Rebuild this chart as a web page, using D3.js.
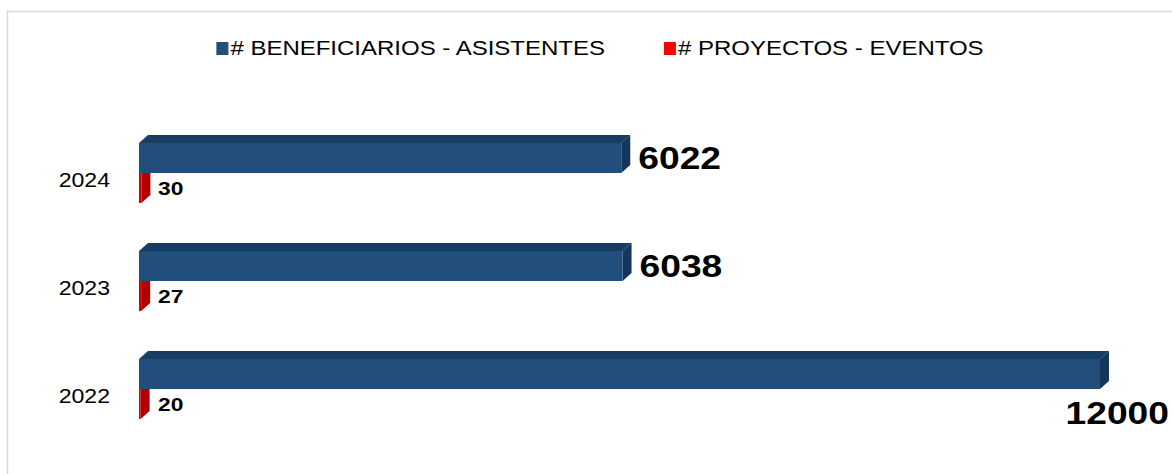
<!DOCTYPE html>
<html>
<head>
<meta charset="utf-8">
<script src="https://cdn.jsdelivr.net/npm/d3@7"></script>
<style>
  html, body { margin: 0; padding: 0; background: #ffffff; }
  svg { display: block; }
  text { font-family: "Liberation Sans", Arial, sans-serif; }
</style>
</head>
<body>
<svg id="chart" width="1172" height="474"></svg>
<script>
// ---- data ----
const years = ["2024", "2023", "2022"];
const beneficiarios = [6022, 6038, 12000];
const proyectos = [30, 27, 20];
const seriesNames = ["# BENEFICIARIOS - ASISTENTES", "# PROYECTOS - EVENTOS"];
const seriesKeys = ["benef", "proy"];

// ---- styles ----
const W = 1172, H = 474;
const colors = {
  benef: { front: "#214e7a", top: "#183d63", side: "#15365a", legend: "#1f4e79" },
  proy:  { front: "#d40000", top: "#a00000", side: "#b00000", legend: "#ff0000" }
};
const depthX = 9, depthY = 8;

const svg = d3.select("#chart");

// frame
svg.append("rect")
  .attr("x", 7.5).attr("y", 11.5)
  .attr("width", W + 20).attr("height", H + 20)
  .attr("fill", "#ffffff").attr("stroke", "#d9d9d9").attr("stroke-width", 1.5);

// scales
const x = d3.scaleLinear().domain([0, 12000]).range([139, 1100]);
const y = d3.scaleBand().domain(years).range([119, 443]).paddingInner(0).paddingOuter(0);
const ySub = d3.scaleBand().domain(seriesKeys).range([0, y.bandwidth()]).paddingInner(0).paddingOuter(0.8);

// helper: text with horizontal stretch
function addText(parent, str, tx, ty, size, weight, sx, anchor) {
  const g = parent.append("g").attr("transform", `translate(${tx},${ty}) scale(${sx},1)`);
  const t = g.append("text")
    .attr("x", 0).attr("y", 0)
    .attr("font-size", size).attr("font-weight", weight)
    .attr("fill", "#000000")
    .attr("text-anchor", anchor || "start")
    .text(str);
  return { g, t, width: t.node().getComputedTextLength() * sx };
}

// 3D bar
function bar3d(parent, x0, x1, y0, h, c) {
  const g = parent.append("g");
  g.append("path")
    .attr("d", `M${x0},${y0} L${x0 + depthX},${y0 - depthY} L${x1 + depthX},${y0 - depthY} L${x1},${y0} Z`)
    .attr("fill", c.top);
  g.append("path")
    .attr("d", `M${x1},${y0} L${x1 + depthX},${y0 - depthY} L${x1 + depthX},${y0 + h - depthY} L${x1},${y0 + h} Z`)
    .attr("fill", c.side);
  g.append("rect")
    .attr("x", x0).attr("y", y0)
    .attr("width", Math.max(0, x1 - x0)).attr("height", h)
    .attr("fill", c.front);
  return g;
}

const plot = svg.append("g");
const barH = ySub.bandwidth();

years.forEach((yr, i) => {
  const yb = y(yr);
  const yRed = yb + ySub("proy");
  bar3d(plot, x(0), x(proyectos[i]), yRed, barH, colors.proy);
  const yBlue = yb + ySub("benef");
  bar3d(plot, x(0), x(beneficiarios[i]), yBlue, barH, colors.benef);
});

// category labels
years.forEach(yr => {
  addText(svg, yr, 110, y(yr) + y.bandwidth() / 2 + 14, 21, "normal", 1.1, "end");
});

// value labels
years.forEach((yr, i) => {
  const yBlue = y(yr) + ySub("benef");
  const v = beneficiarios[i];
  let lx = x(v) + depthX + 8;
  let ly = yBlue + barH / 2 + 11;
  const probe = addText(svg, String(v), lx, ly, 31, "bold", 1.2, "start");
  if (lx + probe.width > W - 4) {
    lx = W - 3 - probe.width;
    ly = yBlue + barH + 35;
    probe.g.attr("transform", `translate(${lx},${ly}) scale(1.2,1)`);
  }
  const yRed = y(yr) + ySub("proy");
  addText(svg, String(proyectos[i]), 158, yRed + barH / 2 + 7, 19, "bold", 1.2, "start");
});

// legend
const legend = svg.append("g");
let cx = 0;
seriesKeys.forEach((k, i) => {
  const it = legend.append("g").attr("transform", `translate(${cx},0)`);
  it.append("rect").attr("x", 0).attr("y", 42).attr("width", 12).attr("height", 13)
    .attr("fill", colors[k].legend);
  const t = addText(it, seriesNames[i], 14, 55, 20, "normal", 1.2, "start");
  cx += 14 + t.width + 59;
});
const legendW = cx - 59;
legend.attr("transform", `translate(${600 - legendW / 2},0)`);
</script>
</body>
</html>
